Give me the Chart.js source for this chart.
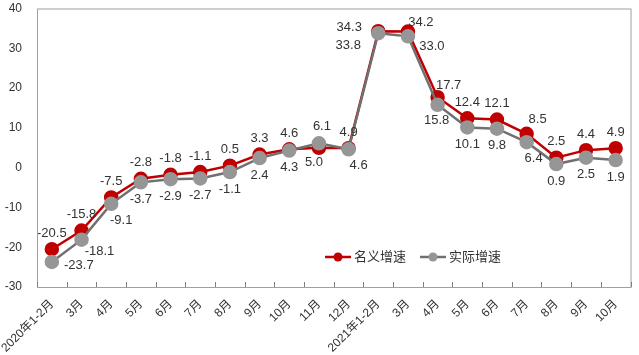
<!DOCTYPE html>
<html>
<head>
<meta charset="utf-8">
<script src="https://cdn.jsdelivr.net/npm/chart.js@4"></script>
<style>
  body { margin: 0; background: #fff; }
  #wrap { width: 639px; height: 355px; position: relative; }
</style>
</head>
<body>
<div id="wrap"><canvas id="growthChart"></canvas></div>
<script>
// ---- data ----
const months = ['2020年1-2月', '3月', '4月', '5月', '6月', '7月', '8月', '9月', '10月', '11月', '12月',
    '2021年1-2月', '3月', '4月', '5月', '6月', '7月', '8月', '9月', '10月'];
const nominal = [-20.5, -15.8, -7.5, -2.8, -1.8, -1.1, 0.5, 3.3, 4.6, 5.0, 4.9,
    34.3, 34.2, 17.7, 12.4, 12.1, 8.5, 2.5, 4.4, 4.9];
const actual = [-23.7, -18.1, -9.1, -3.7, -2.9, -2.7, -1.1, 2.4, 4.3, 6.1, 4.6,
    33.8, 33.0, 15.8, 10.1, 9.8, 6.4, 0.9, 2.5, 1.9];
const yTicks = [-30, -20, -10, 0, 10, 20, 30, 40];
const seriesNames = ['名义增速', '实际增速'];

const RED = '#C00000';
const GREY_LINE = '#707070';
const GREY_DOT = '#969696';
const FONT = '"Liberation Sans", "Noto Sans CJK SC", Arial, sans-serif';

// label placement: default above for nominal, below for actual, a few tweaks
const labelShift = {
    0: { 9: [-5, 15], 11: [-29, -4], 12: [13, -9], 13: [11, -12], 16: [11, -14] },
    1: { 0: [27, 3], 1: [18, 12], 2: [10, 17], 9: [3, -17], 10: [10, 16], 11: [-30, 12],
         12: [24, 10], 13: [-1, 16], 16: [7, 16] }
};

const valueLabels = {
    id: 'valueLabels',
    afterDatasetsDraw(chart) {
        const ctx = chart.ctx;
        ctx.save();
        ctx.font = '13px ' + FONT;
        ctx.fillStyle = '#333';
        ctx.textAlign = 'center';
        ctx.textBaseline = 'middle';
        chart.data.datasets.forEach((ds, di) => {
            const meta = chart.getDatasetMeta(di);
            meta.data.forEach((pt, i) => {
                const s = (labelShift[di] && labelShift[di][i]) || (di === 0 ? [0, -16] : [0, 17]);
                ctx.fillText(ds.data[i].toFixed(1), pt.x + s[0], pt.y + s[1]);
            });
        });
        ctx.restore();
    }
};

const frameAndLegend = {
    id: 'frameAndLegend',
    afterDraw(chart) {
        const ctx = chart.ctx;
        const a = chart.chartArea;
        const x = chart.scales.x;
        ctx.save();
        ctx.strokeStyle = '#A0A0A0';
        ctx.lineWidth = 1;
        ctx.strokeRect(a.left + 0.5, a.top + 0.5, a.right - a.left, a.bottom - a.top);
        // inward tick marks between categories
        ctx.strokeStyle = '#808080';
        for (let i = 0; i <= months.length; i++) {
            const px = Math.round(x.getPixelForValue(i - 0.5)) + 0.5;
            ctx.beginPath();
            ctx.moveTo(px, a.bottom);
            ctx.lineTo(px, a.bottom - 5);
            ctx.stroke();
        }
        // legend
        const items = [
            { name: seriesNames[0], line: RED, dot: RED, x: 325 },
            { name: seriesNames[1], line: GREY_LINE, dot: GREY_DOT, x: 420 }
        ];
        const ly = 257;
        ctx.font = '13px ' + FONT;
        ctx.textBaseline = 'middle';
        ctx.textAlign = 'left';
        items.forEach(it => {
            ctx.strokeStyle = it.line;
            ctx.lineWidth = 2.5;
            ctx.beginPath();
            ctx.moveTo(it.x, ly);
            ctx.lineTo(it.x + 26, ly);
            ctx.stroke();
            ctx.fillStyle = it.dot;
            ctx.beginPath();
            ctx.arc(it.x + 13, ly, 4.5, 0, Math.PI * 2);
            ctx.fill();
            ctx.fillStyle = '#333';
            ctx.fillText(it.name, it.x + 29, ly);
        });
        ctx.restore();
    }
};

new Chart(document.getElementById('growthChart'), {
    type: 'line',
    data: {
        labels: months,
        datasets: [
            { label: seriesNames[0], data: nominal, borderColor: RED, backgroundColor: RED,
              pointBackgroundColor: RED, pointBorderColor: RED, borderWidth: 2.5,
              pointRadius: 6, tension: 0, order: 2 },
            { label: seriesNames[1], data: actual, borderColor: GREY_LINE, backgroundColor: GREY_DOT,
              pointBackgroundColor: GREY_DOT, pointBorderColor: GREY_DOT, borderWidth: 2.5,
              pointRadius: 6, tension: 0, order: 1 }
        ]
    },
    options: {
        responsive: true,
        maintainAspectRatio: false,
        animation: false,
        layout: { padding: { top: 8, right: 3, left: 0, bottom: 0 } },
        plugins: { legend: { display: false }, tooltip: { enabled: false } },
        scales: {
            x: {
                offset: true,
                grid: { display: false },
                border: { display: false },
                ticks: {
                    autoSkip: false, minRotation: 45, maxRotation: 45, padding: 2,
                    color: '#333', font: { size: 12, family: FONT }
                },
                afterFit: s => { s.height = 68; s.paddingLeft = 0; s.paddingRight = 0; }
            },
            y: {
                min: -30, max: 40,
                afterBuildTicks: s => { s.ticks = yTicks.map(v => ({ value: v })); },
                grid: { display: false },
                border: { display: false },
                ticks: { padding: 7, color: '#333', font: { size: 12, family: FONT } },
                afterFit: s => { s.width = 37; s.paddingTop = 0; s.paddingBottom = 0; }
            }
        }
    },
    plugins: [valueLabels, frameAndLegend]
});
</script>
</body>
</html>
